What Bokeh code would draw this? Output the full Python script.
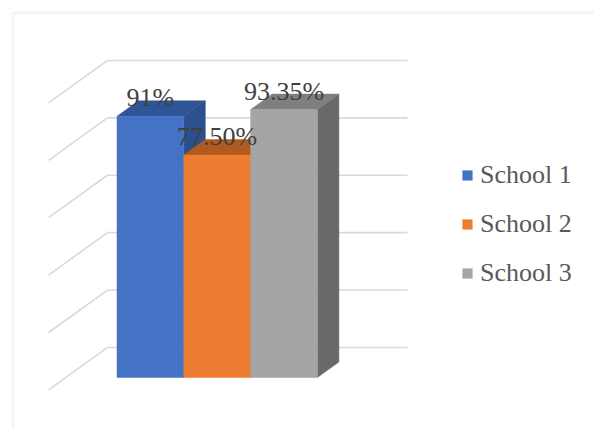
from bokeh.plotting import figure
from bokeh.models import Range1d, BoxAnnotation, Legend, LegendItem
from bokeh.embed import file_html
from bokeh.resources import INLINE
from bokeh.core.properties import value

# ---- data ----
schools = ["School 1", "School 2", "School 3"]
values = [91, 77.5, 93.35]
labels = ["91%", "77.50%", "93.35%"]
grid_ticks = [0, 20, 40, 60, 80, 100]

# ---- styles ----
front_colors = ["#4472C4", "#ED7D31", "#A5A5A5"]
top_colors = ["#2F5597", "#B05A20", "#7F7F7F"]
side_colors = ["#2C4F8E", "#A0501C", "#696969"]

W, H = 594, 428
PX_X = 66.8          # pixels per category unit
PX_Y = 2.87          # pixels per percent
X_START = -0.5 - 116.5 / PX_X
Y_START = -(H - 377) / PX_Y
x_range = Range1d(X_START, X_START + W / PX_X)
y_range = Range1d(Y_START, Y_START + H / PX_Y)

# oblique 3-D projection (per unit of depth)
DDX, DDY = 21.5 / PX_X, 15.5 / PX_Y
BACK, FRONT = 1.94, -0.80
WALL_L = -0.5 + (107 - BACK * 21.5 - 116.5) / PX_X
WALL_R = -0.5 + (407 - BACK * 21.5 - 116.5) / PX_X

p = figure(width=W, height=H, x_range=x_range, y_range=y_range,
           output_backend="svg", toolbar_location=None, min_border=0,
           x_axis_location=None, y_axis_location=None)
p.grid.visible = False
p.outline_line_color = None
p.background_fill_color = "white"

# chart-area border (only top & left visible in the crop)
p.add_layout(BoxAnnotation(left=X_START + 12.5 / PX_X, right=X_START + (W + 20) / PX_X,
                           top=Y_START + (H - 12.5) / PX_Y, bottom=Y_START - 20 / PX_Y,
                           fill_alpha=0, line_color="#D9D9D9", line_width=3, level="underlay"))

# gridlines: back wall + left side wall
gx0 = [WALL_L + BACK * DDX] * len(grid_ticks)
gx1 = [WALL_R + BACK * DDX] * len(grid_ticks)
gy = [t + BACK * DDY for t in grid_ticks]
p.segment(x0=gx0, y0=gy, x1=gx1, y1=gy, line_color="#D9D9D9", line_width=1.6)
p.segment(x0=gx0, y0=gy, x1=[WALL_L + FRONT * DDX] * len(grid_ticks),
          y1=[t + FRONT * DDY for t in grid_ticks], line_color="#D9D9D9", line_width=1.6)

# bars
front_renderers = []
for i, v in enumerate(values):
    x0, x1 = i - 0.5, i + 0.5
    p.patch(x=[x1, x1, x1 + DDX, x1 + DDX], y=[0, v, v + DDY, DDY],
            fill_color=side_colors[i], line_color=side_colors[i], line_width=0.5)
    p.patch(x=[x0, x1, x1 + DDX, x0 + DDX], y=[v, v, v + DDY, v + DDY],
            fill_color=top_colors[i], line_color=top_colors[i], line_width=0.5)
    r = p.quad(left=[x0], right=[x1], bottom=[0], top=[v],
               fill_color=front_colors[i], line_color=front_colors[i], line_width=0.5)
    front_renderers.append(r)

# data labels
p.text(x=list(range(len(values))), y=[v + DDY for v in values], text=labels,
       text_align="center", text_baseline="alphabetic", y_offset=-3,
       text_font=value("Liberation Serif"), text_font_size="26px", text_color="#404040")

legend = Legend(items=[LegendItem(label=s, renderers=[r]) for s, r in zip(schools, front_renderers)],
                location=(461, 140), orientation="vertical",
                glyph_width=12, glyph_height=12, label_standoff=7, spacing=19,
                padding=0, margin=0, border_line_color=None, background_fill_alpha=0,
                label_text_font="Liberation Serif", label_text_font_size="26px",
                label_text_color="#595959")
p.add_layout(legend)

open("out.html", "w").write(file_html(p, INLINE))
